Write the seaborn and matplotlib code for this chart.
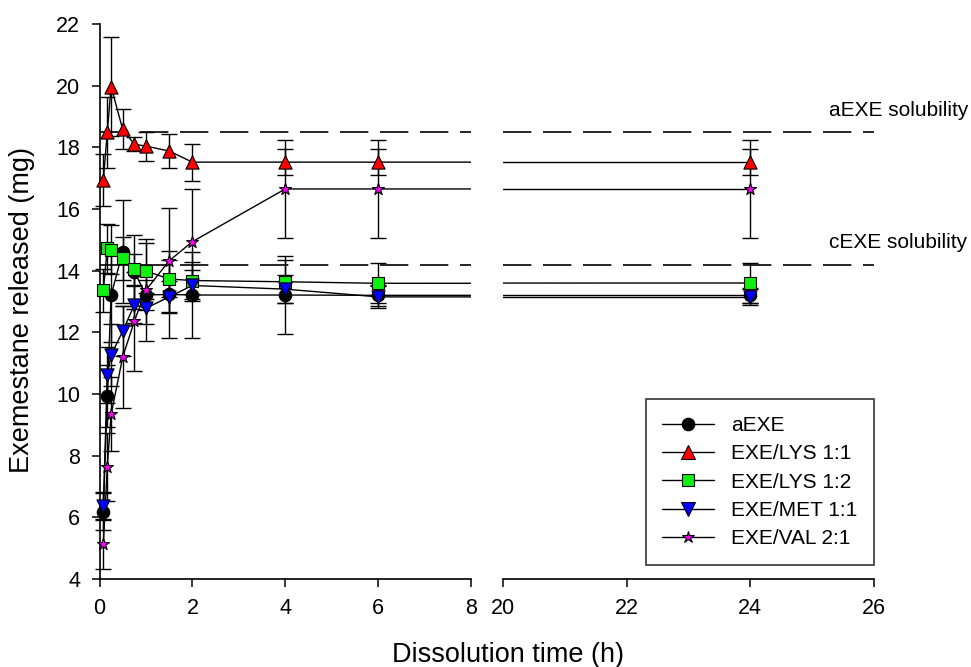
import numpy as np
import pandas as pd
import matplotlib
matplotlib.use("Agg")
import matplotlib.pyplot as plt
from matplotlib.lines import Line2D
import seaborn as sns

# dissolution time points (h)
time_h = [0.083, 0.167, 0.25, 0.5, 0.75, 1, 1.5, 2, 4, 6, 24]

# mean amount released (mg) and SD for each formulation
aexe = [6.18, 9.94, 13.2, 14.62, 13.97, 13.21, 13.23, 13.21, 13.21, 13.2, 13.2]
aexe_sd = [0.6, 1.0, 1.5, 1.67, 1.2, 0.5, 1.41, 1.4, 1.25, 0.35, 0.25]

lys11 = [16.94, 18.49, 19.97, 18.58, 18.1, 18.04, 17.88, 17.52, 17.52, 17.52, 17.52]
lys11_sd = [0.85, 1.15, 1.6, 0.65, 0.22, 0.47, 0.55, 0.6, 0.43, 0.43, 0.43]

lys12 = [13.37, 14.72, 14.68, 14.4, 14.04, 13.99, 13.73, 13.68, 13.64, 13.59, 13.6]
lys12_sd = [0.7, 0.8, 0.8, 0.7, 0.5, 0.9, 0.6, 0.6, 0.7, 0.65, 0.65]

met11 = [6.37, 10.62, 11.26, 12.04, 12.89, 12.78, 13.15, 13.52, 13.4, 13.15, 13.15]
met11_sd = [0.45, 0.9, 1.0, 0.8, 0.6, 0.5, 0.5, 0.5, 0.45, 0.35, 0.25]

val21 = [5.13, 7.62, 9.34, 11.2, 12.36, 13.37, 14.32, 14.94, 16.65, 16.65, 16.65]
val21_sd = [0.8, 1.1, 1.2, 1.65, 1.6, 1.65, 1.7, 1.7, 1.58, 1.58, 1.58]

series_names = ["aEXE", "EXE/LYS 1:1", "EXE/LYS 1:2", "EXE/MET 1:1", "EXE/VAL 2:1"]
series_means = [aexe, lys11, lys12, met11, val21]
series_sds = [aexe_sd, lys11_sd, lys12_sd, met11_sd, val21_sd]
face_colors = ["black", "#ff0000", "#11ee11", "#0000ff", "#ff00ff"]
marker_shapes = ["o", "^", "s", "v", "*"]
marker_sizes = [9, 9.5, 8.5, 9.5, 9]

aexe_solubility = 18.5
cexe_solubility = 14.2

sns.set_style("ticks")
plt.rcParams['font.family'] = ['Liberation Sans', 'DejaVu Sans']
plt.rcParams['text.color'] = 'black'
plt.rcParams['xtick.color'] = 'black'
plt.rcParams['ytick.color'] = 'black'
plt.rcParams['xtick.labelsize'] = 15.5
plt.rcParams['ytick.labelsize'] = 15.5

fig = plt.figure(figsize=(9.71, 6.67), dpi=100)
W, H = 971.0, 667.0
bottom = 1 - 579 / H
height = (579 - 24) / H
ax1 = fig.add_axes([99.5 / W, bottom, (471 - 99.5) / W, height])
ax2 = fig.add_axes([503 / W, bottom, (874 - 503) / W, height], sharey=ax1)

for ax, lo, hi in [(ax1, 0, 8), (ax2, 20, 26)]:
    for name, mean, sd, fc, mk, ms in zip(series_names, series_means, series_sds,
                                          face_colors, marker_shapes, marker_sizes):
        df = pd.DataFrame({"time": time_h, "released": mean, "sd": sd})
        # connecting line (clipped so it runs across the break)
        sns.lineplot(data=df, x="time", y="released", color="black", lw=1.0,
                     ax=ax, legend=False, zorder=2)
        vis = df[(df["time"] >= lo) & (df["time"] <= hi)]
        eb = ax.errorbar(vis["time"], vis["released"], yerr=vis["sd"], fmt="none",
                         ecolor="black", elinewidth=1.0, capsize=6, capthick=1.0, zorder=1)
        for art in eb.get_children():
            art.set_clip_on(False)
        sns.scatterplot(data=vis, x="time", y="released", marker=mk, s=ms ** 2,
                        color=fc, edgecolor="black", linewidth=0.8, ax=ax,
                        legend=False, zorder=3, clip_on=False)
    ax.axhline(aexe_solubility, color="black", lw=1.2, ls=(0, (17, 7)), zorder=0)
    ax.axhline(cexe_solubility, color="black", lw=1.2, ls=(0, (17, 7)), zorder=0)
    ax.set_xlim(lo, hi)
    ax.set_xticks(np.arange(lo, hi + 1, 2))
    ax.set_xlabel("")
    ax.set_ylabel("")
    for sp in ["top", "right"]:
        ax.spines[sp].set_visible(False)
    for sp in ax.spines.values():
        sp.set_linewidth(1.2)
        sp.set_color("black")
    ax.tick_params(length=6, width=1.1, color="black", pad=8)

ax1.set_ylim(4, 22)
ax1.set_yticks(np.arange(4, 23, 2))
ax2.spines["left"].set_visible(False)
ax2.tick_params(axis="y", left=False, labelleft=False)

fig.text(829 / W, 1 - 110 / H, "aEXE solubility", fontsize=15, va="center", ha="left")
fig.text(829 / W, 1 - 243 / H, "cEXE solubility", fontsize=15, va="center", ha="left")

fig.text(508 / W, 1 - 655 / H, "Dissolution time (h)", fontsize=19.5, ha="center", va="center")
fig.text(22 / W, 1 - 310 / H, "Exemestane released (mg)", fontsize=19.5, ha="center",
         va="center", rotation=90)

handles = [Line2D([0], [0], color="black", lw=1.0, marker=mk, markersize=ms,
                  markerfacecolor=fc, markeredgecolor="black", markeredgewidth=0.8)
           for fc, mk, ms in zip(face_colors, marker_shapes, marker_sizes)]
leg = ax2.legend(handles, series_names, loc="lower right", bbox_to_anchor=(1.0, 0.025),
                 fontsize=15, frameon=True, fancybox=False, edgecolor="black",
                 handlelength=2.5, borderpad=0.8, labelspacing=0.45, borderaxespad=0)
leg.get_frame().set_linewidth(1.2)

fig.savefig("out.png", dpi=100)
